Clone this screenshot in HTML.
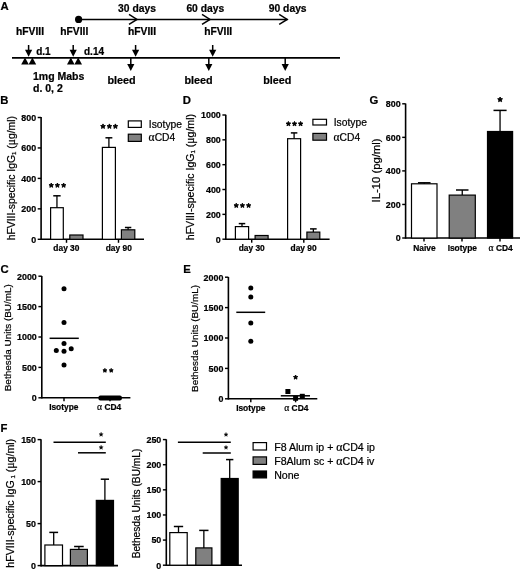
<!DOCTYPE html>
<html><head><meta charset="utf-8"><style>
html,body{margin:0;padding:0;background:#fff;}
svg{display:block;font-family:"Liberation Sans", sans-serif;will-change:transform;}
text{fill:#000;stroke:#000;stroke-width:0.22px;}
</style></head><body>
<svg width="520" height="570" viewBox="0 0 520 570">
<rect width="520" height="570" fill="#fff"/>
<text x="0.6" y="9.8" font-size="11.3" font-weight="700" text-anchor="start" >A</text>
<line x1="78.5" y1="19.45" x2="287.5" y2="19.45" stroke="#000" stroke-width="1.5"/>
<circle cx="78.6" cy="19.4" r="3.6" fill="#000"/>
<polyline points="129.0,14.45 137.0,19.45 129.0,24.45" fill="none" stroke="#000" stroke-width="1.5"/>
<polyline points="202.0,14.45 210.0,19.45 202.0,24.45" fill="none" stroke="#000" stroke-width="1.5"/>
<polyline points="279.2,14.45 287.2,19.45 279.2,24.45" fill="none" stroke="#000" stroke-width="1.5"/>
<text x="137" y="11.6" font-size="10.3" font-weight="700" text-anchor="middle" >30 days</text>
<text x="205.3" y="11.6" font-size="10.3" font-weight="700" text-anchor="middle" >60 days</text>
<text x="287.7" y="11.6" font-size="10.3" font-weight="700" text-anchor="middle" >90 days</text>
<text x="30" y="34.8" font-size="10.3" font-weight="700" text-anchor="middle" >hFVIII</text>
<text x="74.3" y="34.8" font-size="10.3" font-weight="700" text-anchor="middle" >hFVIII</text>
<text x="142" y="34.8" font-size="10.3" font-weight="700" text-anchor="middle" >hFVIII</text>
<text x="218.2" y="34.8" font-size="10.3" font-weight="700" text-anchor="middle" >hFVIII</text>
<line x1="12" y1="57.85" x2="340" y2="57.85" stroke="#000" stroke-width="1.7"/>
<line x1="28.6" y1="45" x2="28.6" y2="50.3" stroke="#000" stroke-width="1.5"/>
<polygon points="25.0,49.8 32.2,49.8 28.6,56.8" fill="#000"/>
<line x1="73.2" y1="45" x2="73.2" y2="50.3" stroke="#000" stroke-width="1.5"/>
<polygon points="69.60000000000001,49.8 76.8,49.8 73.2,56.8" fill="#000"/>
<line x1="135.6" y1="45" x2="135.6" y2="50.3" stroke="#000" stroke-width="1.5"/>
<polygon points="132.0,49.8 139.2,49.8 135.6,56.8" fill="#000"/>
<line x1="212.7" y1="45" x2="212.7" y2="50.3" stroke="#000" stroke-width="1.5"/>
<polygon points="209.1,49.8 216.29999999999998,49.8 212.7,56.8" fill="#000"/>
<line x1="130.8" y1="58" x2="130.8" y2="64.5" stroke="#000" stroke-width="1.5"/>
<polygon points="127.20000000000002,64 134.4,64 130.8,71" fill="#000"/>
<line x1="208.8" y1="58" x2="208.8" y2="64.5" stroke="#000" stroke-width="1.5"/>
<polygon points="205.20000000000002,64 212.4,64 208.8,71" fill="#000"/>
<line x1="285.2" y1="58" x2="285.2" y2="64.5" stroke="#000" stroke-width="1.5"/>
<polygon points="281.59999999999997,64 288.8,64 285.2,71" fill="#000"/>
<polygon points="21.2,64.5 28.799999999999997,64.5 25.0,57.6" fill="#000"/>
<polygon points="28.6,64.5 36.2,64.5 32.400000000000006,57.6" fill="#000"/>
<polygon points="67,64.5 74.6,64.5 70.8,57.6" fill="#000"/>
<polygon points="74.4,64.5 82,64.5 78.2,57.6" fill="#000"/>
<text x="36.2" y="54.9" font-size="10" font-weight="700" text-anchor="start" >d.1</text>
<text x="84" y="54.9" font-size="10" font-weight="700" text-anchor="start" >d.14</text>
<text x="121.5" y="84.1" font-size="10.8" font-weight="700" text-anchor="middle" >bleed</text>
<text x="198.5" y="84.1" font-size="10.8" font-weight="700" text-anchor="middle" >bleed</text>
<text x="277.3" y="84.1" font-size="10.8" font-weight="700" text-anchor="middle" >bleed</text>
<text x="33" y="80.2" font-size="10.5" font-weight="700" text-anchor="start" >1mg Mabs</text>
<text x="33" y="92.2" font-size="10.5" font-weight="700" text-anchor="start" >d. 0, 2</text>
<text x="0.3" y="103.5" font-size="11.3" font-weight="700" text-anchor="start" >B</text>
<line x1="41.1" y1="116.9" x2="41.1" y2="240.10000000000002" stroke="#000" stroke-width="1.6"/>
<line x1="37.7" y1="239.3" x2="41.1" y2="239.3" stroke="#000" stroke-width="1.4400000000000002"/>
<text x="36.1" y="242.60000000000002" font-size="9.6" font-weight="700" text-anchor="end" textLength="4.95" lengthAdjust="spacingAndGlyphs">0</text>
<line x1="37.7" y1="208.85000000000002" x2="41.1" y2="208.85000000000002" stroke="#000" stroke-width="1.4400000000000002"/>
<text x="36.1" y="212.15000000000003" font-size="9.6" font-weight="700" text-anchor="end" textLength="14.85" lengthAdjust="spacingAndGlyphs">200</text>
<line x1="37.7" y1="178.4" x2="41.1" y2="178.4" stroke="#000" stroke-width="1.4400000000000002"/>
<text x="36.1" y="181.70000000000002" font-size="9.6" font-weight="700" text-anchor="end" textLength="14.85" lengthAdjust="spacingAndGlyphs">400</text>
<line x1="37.7" y1="147.95000000000002" x2="41.1" y2="147.95000000000002" stroke="#000" stroke-width="1.4400000000000002"/>
<text x="36.1" y="151.25000000000003" font-size="9.6" font-weight="700" text-anchor="end" textLength="14.85" lengthAdjust="spacingAndGlyphs">600</text>
<line x1="37.7" y1="117.50000000000001" x2="41.1" y2="117.50000000000001" stroke="#000" stroke-width="1.4400000000000002"/>
<text x="36.1" y="120.80000000000001" font-size="9.6" font-weight="700" text-anchor="end" textLength="14.85" lengthAdjust="spacingAndGlyphs">800</text>
<line x1="41.1" y1="239.3" x2="144" y2="239.3" stroke="#000" stroke-width="1.6"/>
<line x1="66.5" y1="239.3" x2="66.5" y2="242.8" stroke="#000" stroke-width="1.4400000000000002"/>
<line x1="118.5" y1="239.3" x2="118.5" y2="242.8" stroke="#000" stroke-width="1.4400000000000002"/>
<rect x="50.60" y="207.70" width="12.70" height="31.60" fill="#fff" stroke="#000" stroke-width="1.2"/>
<line x1="56.95" y1="195.8" x2="56.95" y2="207.7" stroke="#000" stroke-width="1.3"/>
<line x1="53.25" y1="195.8" x2="60.650000000000006" y2="195.8" stroke="#000" stroke-width="1.5"/>
<rect x="69.80" y="235.00" width="13.20" height="4.30" fill="#808080" stroke="#000" stroke-width="1.2"/>
<rect x="102.40" y="147.40" width="13.00" height="91.90" fill="#fff" stroke="#000" stroke-width="1.2"/>
<line x1="108.9" y1="137.8" x2="108.9" y2="147.4" stroke="#000" stroke-width="1.3"/>
<line x1="105.45" y1="137.8" x2="112.35000000000001" y2="137.8" stroke="#000" stroke-width="1.5"/>
<rect x="121.40" y="229.80" width="13.40" height="9.50" fill="#808080" stroke="#000" stroke-width="1.2"/>
<line x1="128.10000000000002" y1="227.5" x2="128.10000000000002" y2="229.8" stroke="#000" stroke-width="1.3"/>
<line x1="124.90000000000002" y1="227.5" x2="131.3" y2="227.5" stroke="#000" stroke-width="1.5"/>
<text x="66.4" y="251" font-size="8.4" font-weight="700" text-anchor="middle" >day 30</text>
<text x="118.8" y="251" font-size="8.4" font-weight="700" text-anchor="middle" >day 90</text>
<polygon points="51.25,183.00 51.91,184.49 53.53,184.66 52.32,185.75 52.66,187.34 51.25,186.53 49.84,187.34 50.18,185.75 48.97,184.66 50.59,184.49" fill="#000" stroke="#000" stroke-width="0.9" stroke-linejoin="round"/>
<polygon points="57.40,183.00 58.06,184.49 59.68,184.66 58.47,185.75 58.81,187.34 57.40,186.53 55.99,187.34 56.33,185.75 55.12,184.66 56.74,184.49" fill="#000" stroke="#000" stroke-width="0.9" stroke-linejoin="round"/>
<polygon points="63.65,183.00 64.31,184.49 65.93,184.66 64.72,185.75 65.06,187.34 63.65,186.53 62.24,187.34 62.58,185.75 61.37,184.66 62.99,184.49" fill="#000" stroke="#000" stroke-width="0.9" stroke-linejoin="round"/>
<polygon points="103.00,123.91 103.69,125.45 105.37,125.63 104.12,126.76 104.47,128.42 103.00,127.57 101.53,128.42 101.88,126.76 100.63,125.63 102.31,125.45" fill="#000" stroke="#000" stroke-width="0.9" stroke-linejoin="round"/>
<polygon points="109.40,123.91 110.09,125.45 111.77,125.63 110.52,126.76 110.87,128.42 109.40,127.57 107.93,128.42 108.28,126.76 107.03,125.63 108.71,125.45" fill="#000" stroke="#000" stroke-width="0.9" stroke-linejoin="round"/>
<polygon points="115.40,123.91 116.09,125.45 117.77,125.63 116.52,126.76 116.87,128.42 115.40,127.57 113.93,128.42 114.28,126.76 113.03,125.63 114.71,125.45" fill="#000" stroke="#000" stroke-width="0.9" stroke-linejoin="round"/>
<rect x="128.30" y="120.90" width="13.00" height="6.50" fill="#fff" stroke="#000" stroke-width="1.2"/>
<rect x="128.30" y="134.20" width="13.00" height="7.20" fill="#808080" stroke="#000" stroke-width="1.2"/>
<text x="148.8" y="127.6" font-size="10.3" font-weight="400" text-anchor="start" >Isotype</text>
<text x="148.6" y="141.4" font-size="10.3" font-weight="400" text-anchor="start" ><tspan font-family="Liberation Serif" font-size="1.12em">α</tspan>CD4</text>
<text x="14.8" y="178.15" font-size="10.4" font-weight="400" text-anchor="middle" transform="rotate(-90 14.8 178.15)">hFVIII-specific IgG<tspan font-size="6" dy="1.2">1</tspan><tspan dy="-1.2"> (<tspan font-family="Liberation Serif" font-size="1.1em">μ</tspan>g/ml)</tspan></text>
<text x="182.8" y="103.8" font-size="11.3" font-weight="700" text-anchor="start" >D</text>
<line x1="225.8" y1="114.7" x2="225.8" y2="240.0" stroke="#000" stroke-width="1.6"/>
<line x1="222.4" y1="239.2" x2="225.8" y2="239.2" stroke="#000" stroke-width="1.4400000000000002"/>
<text x="220.8" y="242.5" font-size="9.6" font-weight="700" text-anchor="end" textLength="4.95" lengthAdjust="spacingAndGlyphs">0</text>
<line x1="222.4" y1="214.35999999999999" x2="225.8" y2="214.35999999999999" stroke="#000" stroke-width="1.4400000000000002"/>
<text x="220.8" y="217.66" font-size="9.6" font-weight="700" text-anchor="end" textLength="14.85" lengthAdjust="spacingAndGlyphs">200</text>
<line x1="222.4" y1="189.51999999999998" x2="225.8" y2="189.51999999999998" stroke="#000" stroke-width="1.4400000000000002"/>
<text x="220.8" y="192.82" font-size="9.6" font-weight="700" text-anchor="end" textLength="14.85" lengthAdjust="spacingAndGlyphs">400</text>
<line x1="222.4" y1="164.68" x2="225.8" y2="164.68" stroke="#000" stroke-width="1.4400000000000002"/>
<text x="220.8" y="167.98000000000002" font-size="9.6" font-weight="700" text-anchor="end" textLength="14.85" lengthAdjust="spacingAndGlyphs">600</text>
<line x1="222.4" y1="139.83999999999997" x2="225.8" y2="139.83999999999997" stroke="#000" stroke-width="1.4400000000000002"/>
<text x="220.8" y="143.14" font-size="9.6" font-weight="700" text-anchor="end" textLength="14.85" lengthAdjust="spacingAndGlyphs">800</text>
<line x1="222.4" y1="114.99999999999999" x2="225.8" y2="114.99999999999999" stroke="#000" stroke-width="1.4400000000000002"/>
<text x="220.8" y="118.29999999999998" font-size="9.6" font-weight="700" text-anchor="end" textLength="19.80" lengthAdjust="spacingAndGlyphs">1000</text>
<line x1="225.8" y1="239.2" x2="329.6" y2="239.2" stroke="#000" stroke-width="1.6"/>
<line x1="251.7" y1="239.2" x2="251.7" y2="242.7" stroke="#000" stroke-width="1.4400000000000002"/>
<line x1="303.8" y1="239.2" x2="303.8" y2="242.7" stroke="#000" stroke-width="1.4400000000000002"/>
<rect x="235.40" y="226.60" width="13.20" height="12.60" fill="#fff" stroke="#000" stroke-width="1.2"/>
<line x1="242.0" y1="223.6" x2="242.0" y2="226.6" stroke="#000" stroke-width="1.3"/>
<line x1="238.75" y1="223.6" x2="245.25" y2="223.6" stroke="#000" stroke-width="1.5"/>
<rect x="255.10" y="235.50" width="13.00" height="3.70" fill="#808080" stroke="#000" stroke-width="1.2"/>
<rect x="287.60" y="138.70" width="13.00" height="100.50" fill="#fff" stroke="#000" stroke-width="1.2"/>
<line x1="294.1" y1="132.9" x2="294.1" y2="138.7" stroke="#000" stroke-width="1.3"/>
<line x1="290.85" y1="132.9" x2="297.35" y2="132.9" stroke="#000" stroke-width="1.5"/>
<rect x="306.90" y="232.10" width="12.90" height="7.10" fill="#808080" stroke="#000" stroke-width="1.2"/>
<line x1="313.35" y1="228.9" x2="313.35" y2="232.1" stroke="#000" stroke-width="1.3"/>
<line x1="310.05" y1="228.9" x2="316.65000000000003" y2="228.9" stroke="#000" stroke-width="1.5"/>
<text x="251.7" y="251" font-size="8.4" font-weight="700" text-anchor="middle" >day 30</text>
<text x="303.6" y="251" font-size="8.4" font-weight="700" text-anchor="middle" >day 90</text>
<polygon points="236.25,203.16 236.91,204.64 238.53,204.81 237.32,205.90 237.66,207.49 236.25,206.68 234.84,207.49 235.18,205.90 233.97,204.81 235.59,204.64" fill="#000" stroke="#000" stroke-width="0.9" stroke-linejoin="round"/>
<polygon points="242.40,203.16 243.06,204.64 244.68,204.81 243.47,205.90 243.81,207.49 242.40,206.68 240.99,207.49 241.33,205.90 240.12,204.81 241.74,204.64" fill="#000" stroke="#000" stroke-width="0.9" stroke-linejoin="round"/>
<polygon points="248.60,203.16 249.26,204.64 250.88,204.81 249.67,205.90 250.01,207.49 248.60,206.68 247.19,207.49 247.53,205.90 246.32,204.81 247.94,204.64" fill="#000" stroke="#000" stroke-width="0.9" stroke-linejoin="round"/>
<polygon points="288.40,121.41 289.08,122.92 290.73,123.09 289.49,124.21 289.84,125.83 288.40,125.00 286.96,125.83 287.31,124.21 286.07,123.09 287.72,122.92" fill="#000" stroke="#000" stroke-width="0.9" stroke-linejoin="round"/>
<polygon points="294.50,121.41 295.18,122.92 296.83,123.09 295.59,124.21 295.94,125.83 294.50,125.00 293.06,125.83 293.41,124.21 292.17,123.09 293.82,122.92" fill="#000" stroke="#000" stroke-width="0.9" stroke-linejoin="round"/>
<polygon points="300.60,121.41 301.28,122.92 302.93,123.09 301.69,124.21 302.04,125.83 300.60,125.00 299.16,125.83 299.51,124.21 298.27,123.09 299.92,122.92" fill="#000" stroke="#000" stroke-width="0.9" stroke-linejoin="round"/>
<rect x="312.90" y="119.30" width="13.60" height="5.70" fill="#fff" stroke="#000" stroke-width="1.2"/>
<rect x="312.90" y="133.40" width="13.60" height="6.80" fill="#808080" stroke="#000" stroke-width="1.2"/>
<text x="333.7" y="125.6" font-size="10.3" font-weight="400" text-anchor="start" >Isotype</text>
<text x="333.5" y="140.6" font-size="10.3" font-weight="400" text-anchor="start" ><tspan font-family="Liberation Serif" font-size="1.12em">α</tspan>CD4</text>
<text x="194.3" y="177.1" font-size="10.55" font-weight="400" text-anchor="middle" transform="rotate(-90 194.3 177.1)">hFVIII-specific IgG<tspan font-size="6" dy="1.2">1</tspan><tspan dy="-1.2"> (<tspan font-family="Liberation Serif" font-size="1.1em">μ</tspan>g/ml)</tspan></text>
<text x="369.6" y="104" font-size="11.3" font-weight="700" text-anchor="start" >G</text>
<line x1="405.6" y1="103.5" x2="405.6" y2="238.8" stroke="#000" stroke-width="1.6"/>
<line x1="402.20000000000005" y1="238.0" x2="405.6" y2="238.0" stroke="#000" stroke-width="1.4400000000000002"/>
<text x="400.6" y="241.3" font-size="9.6" font-weight="700" text-anchor="end" textLength="4.95" lengthAdjust="spacingAndGlyphs">0</text>
<line x1="402.20000000000005" y1="204.45" x2="405.6" y2="204.45" stroke="#000" stroke-width="1.4400000000000002"/>
<text x="400.6" y="207.75" font-size="9.6" font-weight="700" text-anchor="end" textLength="14.85" lengthAdjust="spacingAndGlyphs">200</text>
<line x1="402.20000000000005" y1="170.9" x2="405.6" y2="170.9" stroke="#000" stroke-width="1.4400000000000002"/>
<text x="400.6" y="174.20000000000002" font-size="9.6" font-weight="700" text-anchor="end" textLength="14.85" lengthAdjust="spacingAndGlyphs">400</text>
<line x1="402.20000000000005" y1="137.35000000000002" x2="405.6" y2="137.35000000000002" stroke="#000" stroke-width="1.4400000000000002"/>
<text x="400.6" y="140.65000000000003" font-size="9.6" font-weight="700" text-anchor="end" textLength="14.85" lengthAdjust="spacingAndGlyphs">600</text>
<line x1="402.20000000000005" y1="103.80000000000001" x2="405.6" y2="103.80000000000001" stroke="#000" stroke-width="1.4400000000000002"/>
<text x="400.6" y="107.10000000000001" font-size="9.6" font-weight="700" text-anchor="end" textLength="14.85" lengthAdjust="spacingAndGlyphs">800</text>
<line x1="405.6" y1="238.0" x2="520" y2="238.0" stroke="#000" stroke-width="1.6"/>
<line x1="424" y1="238.0" x2="424" y2="241.5" stroke="#000" stroke-width="1.4400000000000002"/>
<line x1="462" y1="238.0" x2="462" y2="241.5" stroke="#000" stroke-width="1.4400000000000002"/>
<line x1="500" y1="238.0" x2="500" y2="241.5" stroke="#000" stroke-width="1.4400000000000002"/>
<rect x="411.50" y="183.80" width="25.50" height="54.20" fill="#fff" stroke="#000" stroke-width="1.2"/>
<line x1="424.25" y1="182.8" x2="424.25" y2="183.8" stroke="#000" stroke-width="1.3"/>
<line x1="417.95" y1="182.8" x2="430.55" y2="182.8" stroke="#000" stroke-width="1.5"/>
<rect x="449.20" y="195.10" width="26.10" height="42.90" fill="#808080" stroke="#000" stroke-width="1.2"/>
<line x1="462.25" y1="190" x2="462.25" y2="195.1" stroke="#000" stroke-width="1.3"/>
<line x1="456.0" y1="190" x2="468.5" y2="190" stroke="#000" stroke-width="1.5"/>
<rect x="487.50" y="131.50" width="25.10" height="106.50" fill="#000" stroke="#000" stroke-width="1.2"/>
<line x1="500.05" y1="110.4" x2="500.05" y2="131.5" stroke="#000" stroke-width="1.3"/>
<line x1="493.5" y1="110.4" x2="506.6" y2="110.4" stroke="#000" stroke-width="1.5"/>
<text x="424.5" y="250.5" font-size="8.4" font-weight="700" text-anchor="middle" >Naive</text>
<text x="462.3" y="250.5" font-size="8.4" font-weight="700" text-anchor="middle" >Isotype</text>
<text x="500.7" y="250.5" font-size="8.4" font-weight="700" text-anchor="middle" ><tspan font-family="Liberation Serif" font-weight="400" font-size="1.15em">α</tspan> CD4</text>
<polygon points="500.10,97.00 500.82,98.61 502.57,98.80 501.26,99.98 501.63,101.70 500.10,100.82 498.57,101.70 498.94,99.98 497.63,98.80 499.38,98.61" fill="#000" stroke="#000" stroke-width="0.9" stroke-linejoin="round"/>
<text x="380" y="170.45" font-size="11.3" font-weight="400" text-anchor="middle" transform="rotate(-90 380 170.45)">IL-10 (pg/ml)</text>
<text x="0.5" y="272.6" font-size="11.3" font-weight="700" text-anchor="start" >C</text>
<line x1="41.8" y1="276.0" x2="41.8" y2="398.6" stroke="#000" stroke-width="1.6"/>
<line x1="38.4" y1="397.8" x2="41.8" y2="397.8" stroke="#000" stroke-width="1.4400000000000002"/>
<text x="36.8" y="401.1" font-size="9.6" font-weight="700" text-anchor="end" textLength="4.95" lengthAdjust="spacingAndGlyphs">0</text>
<line x1="38.4" y1="367.40000000000003" x2="41.8" y2="367.40000000000003" stroke="#000" stroke-width="1.4400000000000002"/>
<text x="36.8" y="370.70000000000005" font-size="9.6" font-weight="700" text-anchor="end" textLength="14.85" lengthAdjust="spacingAndGlyphs">500</text>
<line x1="38.4" y1="337.0" x2="41.8" y2="337.0" stroke="#000" stroke-width="1.4400000000000002"/>
<text x="36.8" y="340.3" font-size="9.6" font-weight="700" text-anchor="end" textLength="19.80" lengthAdjust="spacingAndGlyphs">1000</text>
<line x1="38.4" y1="306.6" x2="41.8" y2="306.6" stroke="#000" stroke-width="1.4400000000000002"/>
<text x="36.8" y="309.90000000000003" font-size="9.6" font-weight="700" text-anchor="end" textLength="19.80" lengthAdjust="spacingAndGlyphs">1500</text>
<line x1="38.4" y1="276.20000000000005" x2="41.8" y2="276.20000000000005" stroke="#000" stroke-width="1.4400000000000002"/>
<text x="36.8" y="279.50000000000006" font-size="9.6" font-weight="700" text-anchor="end" textLength="19.80" lengthAdjust="spacingAndGlyphs">2000</text>
<line x1="41.8" y1="397.8" x2="130.4" y2="397.8" stroke="#000" stroke-width="1.6"/>
<line x1="64" y1="397.8" x2="64" y2="401.3" stroke="#000" stroke-width="1.4400000000000002"/>
<line x1="110" y1="397.8" x2="110" y2="401.3" stroke="#000" stroke-width="1.4400000000000002"/>
<circle cx="64" cy="288.8" r="2.5" fill="#000"/>
<circle cx="64" cy="322.5" r="2.5" fill="#000"/>
<circle cx="64" cy="343.5" r="2.5" fill="#000"/>
<circle cx="56.3" cy="350.6" r="2.5" fill="#000"/>
<circle cx="64" cy="351.2" r="2.5" fill="#000"/>
<circle cx="71.2" cy="348.7" r="2.5" fill="#000"/>
<circle cx="64" cy="365" r="2.5" fill="#000"/>
<line x1="49.6" y1="338.3" x2="78.8" y2="338.3" stroke="#000" stroke-width="1.5"/>
<rect x="98.4" y="395.5" width="23.5" height="4.9" rx="2" fill="#000"/>
<polygon points="104.90,368.40 105.48,369.70 106.89,369.85 105.84,370.80 106.13,372.19 104.90,371.48 103.67,372.19 103.96,370.80 102.91,369.85 104.32,369.70" fill="#000" stroke="#000" stroke-width="0.9" stroke-linejoin="round"/>
<polygon points="111.20,368.40 111.78,369.70 113.19,369.85 112.14,370.80 112.43,372.19 111.20,371.48 109.97,372.19 110.26,370.80 109.21,369.85 110.62,369.70" fill="#000" stroke="#000" stroke-width="0.9" stroke-linejoin="round"/>
<text x="63.8" y="410.3" font-size="8.4" font-weight="700" text-anchor="middle" >Isotype</text>
<text x="109.2" y="410.3" font-size="8.4" font-weight="700" text-anchor="middle" ><tspan font-family="Liberation Serif" font-weight="400" font-size="1.15em">α</tspan> CD4</text>
<text x="11.1" y="337.7" font-size="9.95" font-weight="400" text-anchor="middle" transform="rotate(-90 11.1 337.7)">Bethesda Units (BU/mL)</text>
<text x="183.2" y="272.8" font-size="11.3" font-weight="700" text-anchor="start" >E</text>
<line x1="228.4" y1="277.0" x2="228.4" y2="399.6" stroke="#000" stroke-width="1.6"/>
<line x1="225.0" y1="398.8" x2="228.4" y2="398.8" stroke="#000" stroke-width="1.4400000000000002"/>
<text x="223.4" y="402.1" font-size="9.6" font-weight="700" text-anchor="end" textLength="4.95" lengthAdjust="spacingAndGlyphs">0</text>
<line x1="225.0" y1="368.40000000000003" x2="228.4" y2="368.40000000000003" stroke="#000" stroke-width="1.4400000000000002"/>
<text x="223.4" y="371.70000000000005" font-size="9.6" font-weight="700" text-anchor="end" textLength="14.85" lengthAdjust="spacingAndGlyphs">500</text>
<line x1="225.0" y1="338.0" x2="228.4" y2="338.0" stroke="#000" stroke-width="1.4400000000000002"/>
<text x="223.4" y="341.3" font-size="9.6" font-weight="700" text-anchor="end" textLength="19.80" lengthAdjust="spacingAndGlyphs">1000</text>
<line x1="225.0" y1="307.6" x2="228.4" y2="307.6" stroke="#000" stroke-width="1.4400000000000002"/>
<text x="223.4" y="310.90000000000003" font-size="9.6" font-weight="700" text-anchor="end" textLength="19.80" lengthAdjust="spacingAndGlyphs">1500</text>
<line x1="225.0" y1="277.20000000000005" x2="228.4" y2="277.20000000000005" stroke="#000" stroke-width="1.4400000000000002"/>
<text x="223.4" y="280.50000000000006" font-size="9.6" font-weight="700" text-anchor="end" textLength="19.80" lengthAdjust="spacingAndGlyphs">2000</text>
<line x1="228.4" y1="398.8" x2="317.3" y2="398.8" stroke="#000" stroke-width="1.6"/>
<line x1="250.8" y1="398.8" x2="250.8" y2="402.3" stroke="#000" stroke-width="1.4400000000000002"/>
<line x1="295.6" y1="398.8" x2="295.6" y2="402.3" stroke="#000" stroke-width="1.4400000000000002"/>
<circle cx="250.8" cy="287.9" r="2.5" fill="#000"/>
<circle cx="250.8" cy="296.9" r="2.5" fill="#000"/>
<circle cx="250.8" cy="323" r="2.5" fill="#000"/>
<circle cx="250.8" cy="341.3" r="2.5" fill="#000"/>
<line x1="236.3" y1="312.3" x2="265.2" y2="312.3" stroke="#000" stroke-width="1.5"/>
<rect x="285.4" y="389.0" width="5" height="5" fill="#000"/>
<rect x="293.1" y="395.8" width="5" height="5" fill="#000"/>
<rect x="299.8" y="393.8" width="5" height="5" fill="#000"/>
<line x1="280.8" y1="395.8" x2="310" y2="395.8" stroke="#000" stroke-width="1.5"/>
<polygon points="295.60,375.00 296.23,376.43 297.78,376.59 296.63,377.63 296.95,379.16 295.60,378.38 294.25,379.16 294.57,377.63 293.42,376.59 294.97,376.43" fill="#000" stroke="#000" stroke-width="0.9" stroke-linejoin="round"/>
<text x="250.8" y="410.8" font-size="8.4" font-weight="700" text-anchor="middle" >Isotype</text>
<text x="296.3" y="410.8" font-size="8.4" font-weight="700" text-anchor="middle" ><tspan font-family="Liberation Serif" font-weight="400" font-size="1.15em">α</tspan> CD4</text>
<text x="198.3" y="338.4" font-size="9.95" font-weight="400" text-anchor="middle" transform="rotate(-90 198.3 338.4)">Bethesda Units (BU/mL)</text>
<text x="0.6" y="432.2" font-size="11.3" font-weight="700" text-anchor="start" >F</text>
<line x1="41.0" y1="439.3" x2="41.0" y2="566.4" stroke="#000" stroke-width="1.6"/>
<line x1="37.6" y1="565.6" x2="41.0" y2="565.6" stroke="#000" stroke-width="1.4400000000000002"/>
<text x="36.0" y="568.9" font-size="9.6" font-weight="700" text-anchor="end" textLength="4.95" lengthAdjust="spacingAndGlyphs">0</text>
<line x1="37.6" y1="523.6" x2="41.0" y2="523.6" stroke="#000" stroke-width="1.4400000000000002"/>
<text x="36.0" y="526.9" font-size="9.6" font-weight="700" text-anchor="end" textLength="9.90" lengthAdjust="spacingAndGlyphs">50</text>
<line x1="37.6" y1="481.6" x2="41.0" y2="481.6" stroke="#000" stroke-width="1.4400000000000002"/>
<text x="36.0" y="484.90000000000003" font-size="9.6" font-weight="700" text-anchor="end" textLength="14.85" lengthAdjust="spacingAndGlyphs">100</text>
<line x1="37.6" y1="439.6" x2="41.0" y2="439.6" stroke="#000" stroke-width="1.4400000000000002"/>
<text x="36.0" y="442.90000000000003" font-size="9.6" font-weight="700" text-anchor="end" textLength="14.85" lengthAdjust="spacingAndGlyphs">150</text>
<line x1="41.0" y1="565.6" x2="118" y2="565.6" stroke="#000" stroke-width="1.6"/>
<rect x="44.90" y="545.00" width="17.60" height="20.60" fill="#fff" stroke="#000" stroke-width="1.2"/>
<line x1="53.7" y1="532.4" x2="53.7" y2="545.0" stroke="#000" stroke-width="1.3"/>
<line x1="49.300000000000004" y1="532.4" x2="58.1" y2="532.4" stroke="#000" stroke-width="1.5"/>
<rect x="70.40" y="549.40" width="17.00" height="16.20" fill="#808080" stroke="#000" stroke-width="1.2"/>
<line x1="78.9" y1="546.5" x2="78.9" y2="549.4" stroke="#000" stroke-width="1.3"/>
<line x1="74.10000000000001" y1="546.5" x2="83.7" y2="546.5" stroke="#000" stroke-width="1.5"/>
<rect x="96.30" y="500.40" width="17.20" height="65.20" fill="#000" stroke="#000" stroke-width="1.2"/>
<line x1="104.9" y1="479.2" x2="104.9" y2="500.4" stroke="#000" stroke-width="1.3"/>
<line x1="100.75" y1="479.2" x2="109.05000000000001" y2="479.2" stroke="#000" stroke-width="1.5"/>
<line x1="53.5" y1="442.3" x2="105.8" y2="442.3" stroke="#000" stroke-width="1.5"/>
<line x1="78" y1="452.8" x2="105.8" y2="452.8" stroke="#000" stroke-width="1.5"/>
<polygon points="101.10,432.28 101.62,433.78 103.21,433.81 101.94,434.77 102.40,436.30 101.10,435.39 99.80,436.30 100.26,434.77 98.99,433.81 100.58,433.78" fill="#000" stroke="#000" stroke-width="0.4" stroke-linejoin="round"/>
<polygon points="101.10,445.28 101.62,446.78 103.21,446.81 101.94,447.77 102.40,449.30 101.10,448.39 99.80,449.30 100.26,447.77 98.99,446.81 100.58,446.78" fill="#000" stroke="#000" stroke-width="0.4" stroke-linejoin="round"/>
<text x="13.9" y="503.3" font-size="10.65" font-weight="400" text-anchor="middle" transform="rotate(-90 13.9 503.3)">hFVIII-specific IgG<tspan font-size="6" dy="1.2"> 1</tspan><tspan dy="-1.2"> (<tspan font-family="Liberation Serif" font-size="1.1em">μ</tspan>g/ml)</tspan></text>
<line x1="166.3" y1="439.3" x2="166.3" y2="566.0" stroke="#000" stroke-width="1.6"/>
<line x1="162.9" y1="565.2" x2="166.3" y2="565.2" stroke="#000" stroke-width="1.4400000000000002"/>
<text x="161.3" y="568.5" font-size="9.6" font-weight="700" text-anchor="end" textLength="4.95" lengthAdjust="spacingAndGlyphs">0</text>
<line x1="162.9" y1="540.08" x2="166.3" y2="540.08" stroke="#000" stroke-width="1.4400000000000002"/>
<text x="161.3" y="543.38" font-size="9.6" font-weight="700" text-anchor="end" textLength="9.90" lengthAdjust="spacingAndGlyphs">50</text>
<line x1="162.9" y1="514.96" x2="166.3" y2="514.96" stroke="#000" stroke-width="1.4400000000000002"/>
<text x="161.3" y="518.26" font-size="9.6" font-weight="700" text-anchor="end" textLength="14.85" lengthAdjust="spacingAndGlyphs">100</text>
<line x1="162.9" y1="489.84000000000003" x2="166.3" y2="489.84000000000003" stroke="#000" stroke-width="1.4400000000000002"/>
<text x="161.3" y="493.14000000000004" font-size="9.6" font-weight="700" text-anchor="end" textLength="14.85" lengthAdjust="spacingAndGlyphs">150</text>
<line x1="162.9" y1="464.72" x2="166.3" y2="464.72" stroke="#000" stroke-width="1.4400000000000002"/>
<text x="161.3" y="468.02000000000004" font-size="9.6" font-weight="700" text-anchor="end" textLength="14.85" lengthAdjust="spacingAndGlyphs">200</text>
<line x1="162.9" y1="439.6" x2="166.3" y2="439.6" stroke="#000" stroke-width="1.4400000000000002"/>
<text x="161.3" y="442.90000000000003" font-size="9.6" font-weight="700" text-anchor="end" textLength="14.85" lengthAdjust="spacingAndGlyphs">250</text>
<line x1="166.3" y1="565.2" x2="242" y2="565.2" stroke="#000" stroke-width="1.6"/>
<rect x="169.80" y="532.60" width="17.40" height="32.60" fill="#fff" stroke="#000" stroke-width="1.2"/>
<line x1="178.5" y1="526.5" x2="178.5" y2="532.6" stroke="#000" stroke-width="1.3"/>
<line x1="173.85" y1="526.5" x2="183.15" y2="526.5" stroke="#000" stroke-width="1.5"/>
<rect x="195.80" y="547.90" width="16.10" height="17.30" fill="#808080" stroke="#000" stroke-width="1.2"/>
<line x1="203.85000000000002" y1="530.4" x2="203.85000000000002" y2="547.9" stroke="#000" stroke-width="1.3"/>
<line x1="199.20000000000002" y1="530.4" x2="208.50000000000003" y2="530.4" stroke="#000" stroke-width="1.5"/>
<rect x="221.20" y="478.50" width="17.00" height="86.70" fill="#000" stroke="#000" stroke-width="1.2"/>
<line x1="229.7" y1="459.6" x2="229.7" y2="478.5" stroke="#000" stroke-width="1.3"/>
<line x1="226.04999999999998" y1="459.6" x2="233.35" y2="459.6" stroke="#000" stroke-width="1.5"/>
<line x1="177.9" y1="442.3" x2="230.8" y2="442.3" stroke="#000" stroke-width="1.5"/>
<line x1="202.7" y1="453" x2="230.8" y2="453" stroke="#000" stroke-width="1.5"/>
<polygon points="226.00,432.48 226.50,433.91 228.02,433.94 226.81,434.86 227.25,436.32 226.00,435.45 224.75,436.32 225.19,434.86 223.98,433.94 225.50,433.91" fill="#000" stroke="#000" stroke-width="0.4" stroke-linejoin="round"/>
<polygon points="226.00,445.38 226.50,446.81 228.02,446.84 226.81,447.76 227.25,449.22 226.00,448.35 224.75,449.22 225.19,447.76 223.98,446.84 225.50,446.81" fill="#000" stroke="#000" stroke-width="0.4" stroke-linejoin="round"/>
<text x="139.9" y="503.5" font-size="10.19" font-weight="400" text-anchor="middle" transform="rotate(-90 139.9 503.5)">Bethesda Units (BU/mL)</text>
<rect x="253.10" y="442.60" width="13.40" height="7.40" fill="#fff" stroke="#000" stroke-width="1.2"/>
<rect x="253.10" y="456.90" width="13.40" height="7.50" fill="#808080" stroke="#000" stroke-width="1.2"/>
<rect x="253.10" y="471.00" width="13.40" height="6.90" fill="#000" stroke="#000" stroke-width="1.2"/>
<text x="274.2" y="451.1" font-size="10.6" font-weight="400" text-anchor="start" >F8 Alum ip + <tspan font-family="Liberation Serif" font-size="1.12em">α</tspan>CD4 ip</text>
<text x="274.2" y="465.4" font-size="10.6" font-weight="400" text-anchor="start" >F8Alum sc + <tspan font-family="Liberation Serif" font-size="1.12em">α</tspan>CD4 iv</text>
<text x="274.2" y="479.2" font-size="10.6" font-weight="400" text-anchor="start" >None</text>
</svg>
</body></html>
